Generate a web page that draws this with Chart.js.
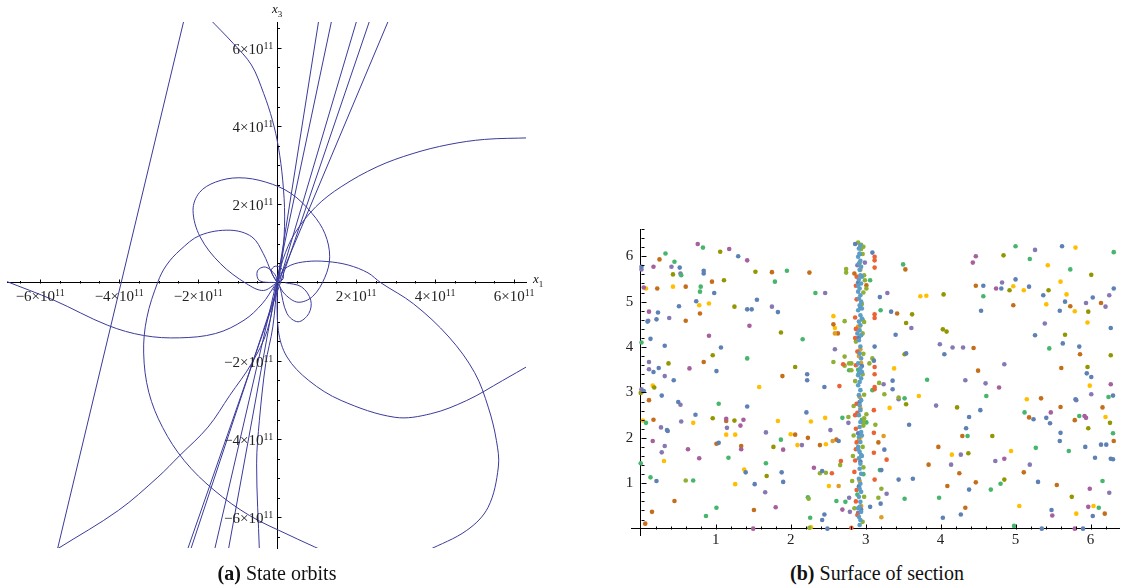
<!DOCTYPE html>
<html>
<head>
<meta charset="utf-8">
<script src="https://cdn.jsdelivr.net/npm/chart.js@4/dist/chart.umd.min.js"></script>
<style>
  body { margin: 0; background: #fff; width: 1123px; height: 586px; position: relative; overflow: hidden; font-family: 'Liberation Serif', serif; color: #111; }
  #orbits { position: absolute; left: 0; top: 0; }
  #section { position: absolute; left: 620px; top: 205px; }
  .cap { position: absolute; top: 562px; font-size: 20px; white-space: nowrap; transform: translateX(-50%); }
  .axlab { position: absolute; font-style: italic; font-size: 13px; }
  .axlab sub { font-style: normal; font-size: 9px; }
  .tl { position: absolute; font-size: 15px; line-height: 15px; white-space: nowrap; color: #222; }
  .tl sup { font-size: 10px; vertical-align: 5px; line-height: 0; }
</style>
</head>
<body>
<canvas id="orbits" width="560" height="575"></canvas>
<canvas id="section" width="503" height="355"></canvas>
<div class="axlab" style="left:272px;top:1px">x<sub>3</sub></div>
<div class="axlab" style="left:533px;top:271px">x<sub>1</sub></div>
<div class="cap" style="left:277px"><b>(a)</b> State orbits</div>
<div class="cap" style="left:877px"><b>(b)</b> Surface of section</div>
<script>
// ---- (a) state orbits, coordinates in units of 10^11 ----
const ORBIT_A = [[-2.35, 6.75], [-5.56, -6.8]];
const ORBIT_B = [[-5.56, -6.8], [-4.02, -5.82], [-3.02, -4.97], [-2.47, -4.42], [-1.75, -3.69], [-1.2, -2.88], [-0.65, -2.07], [-0.25, -1.22], [-0.02, -0.11]];
const ORBIT_C = [[-1.72, 6.75], [-1.11, 6.11], [-0.65, 5.56], [-0.34, 4.83], [-0.12, 4.15], [0.03, 3.47], [0.14, 2.62], [0.19, 1.68], [0.14, 0.74], [0.03, 0.06]];
const ORBIT_E1 = [[0, 0], [-0.35, -0.2], [-0.77, -0.03], [-1.44, 0.49], [-1.95, 1.17], [-2.13, 1.85], [-1.97, 2.3], [-1.56, 2.57], [-0.97, 2.68], [-0.29, 2.57], [0.35, 2.28], [0.89, 1.76], [1.21, 1.25], [1.33, 0.66], [1.21, 0.14], [0.9, -0.35], [0.53, -0.5], [0.2, -0.3], [0.02, -0.02]];
const ORBIT_E2 = [[0, 0], [-0.13, 0.23], [-0.35, 0.74], [-0.64, 1.17], [-1.19, 1.34], [-1.95, 1.21], [-2.46, 0.83], [-2.8, 0.45], [-3.02, 0.02], [-3.3, -0.9], [-3.38, -1.8], [-3.25, -2.8], [-2.9, -3.7], [-2.35, -4.55], [-1.6, -5.3], [-0.7, -5.95], [0.3, -6.45], [1.16, -6.85]];
const ORBIT_F = [[-6.9, 0.05], [-5.65, -0.45], [-4.29, -1.09], [-3.38, -1.35], [-2.47, -1.41], [-1.56, -1.3], [-0.84, -0.96], [-0.38, -0.54], [-0.06, -0.07]];
const ORBIT_G = [[0.02, 0.05], [0.15, 0.6], [0.44, 1.25], [0.98, 1.94], [1.62, 2.45], [2.53, 2.96], [3.44, 3.3], [4.35, 3.53], [5.25, 3.66], [6.4, 3.7]];
const ORBIT_H = [[0.02, 0.02], [0.08, 0.23], [0.33, 0.44], [0.75, 0.54], [1.26, 0.54], [1.8, 0.45], [2.3, 0.25], [2.62, 0], [3.45, -0.54], [4.35, -1.39], [5.0, -2.3], [5.35, -3.2], [5.55, -4.03], [5.6, -4.71], [5.34, -5.74], [4.8, -6.33], [3.8, -6.85]];
const ORBIT_I = [[0, -0.05], [0.03, -1.22], [0.25, -1.9], [0.8, -2.5], [1.62, -3.01], [2.98, -3.44], [3.89, -3.35], [4.8, -3.01], [5.71, -2.5], [6.4, -2.1]];
const ORBIT_J = [[0, 0], [-0.11, -1.13], [-0.29, -2.07], [-0.45, -3.52], [-0.52, -4.63], [-0.45, -6.85]];
const LOOP_1 = [[0.07, -0.1], [0.25, -0.79], [0.53, -1.0], [0.8, -0.79], [0.85, -0.45], [0.62, -0.11], [0.2, 0]];
const LOOP_2 = [[0, 0], [-0.15, 0.3], [-0.05, 0.42], [0.12, 0.35], [0.15, 0.1], [0, 0]];
const LOOP_3 = [[0, 0], [-0.45, 0.05], [-0.5, 0.3], [-0.3, 0.4], [-0.05, 0.2], [0, 0]];
const LINE_1 = [[1.06, 6.75], [0.05, 0.3], [-1.24, -6.85]];
const LINE_2 = [[1.39, 6.75], [0.0, 0.1], [-1.59, -6.85]];
const LINE_3 = [[2.03, 6.75], [0.05, 0.0], [-2.2, -6.85]];
const LINE_4 = [[2.36, 6.75], [0.1, 0.05], [-2.28, -6.85]];
const LINE_5 = [[2.84, 6.75], [0.15, 0.3], [-0.1, -0.2]];

const X1_MAJOR = [-6, -4, -2, 2, 4, 6];
const X1_MINOR = [-6.5, -5.5, -5, -4.5, -3.5, -3, -2.5, -1.5, -1, -0.5, 0.5, 1, 1.5, 2.5, 3, 3.5, 4.5, 5, 5.5];
const Y1_MAJOR = [-6, -4, -2, 2, 4, 6];
const Y1_MINOR = [-6.5, -5.5, -5, -4.5, -3.5, -3, -2.5, -1.5, -1, -0.5, 0.5, 1, 1.5, 2.5, 3, 3.5, 4.5, 5, 5.5, 6.5];

// ---- (b) surface of section, points per colour ----
const LIGHTBLUE_PTS = [[2.93,6.24],[2.91,6.17],[2.92,6.06],[2.90,5.99],[2.93,5.90],[2.91,5.84],[2.94,5.77],[2.92,5.70],[2.93,5.58],[2.95,5.55],[2.91,5.49],[2.94,5.40],[2.90,5.35],[2.92,5.29],[2.90,5.22],[2.93,5.14],[2.91,5.07],[2.94,5.00],[2.92,4.92],[2.95,4.85],[2.90,4.81],[2.93,4.70],[2.95,4.63],[2.91,4.56],[2.93,4.48],[2.92,4.37],[2.89,4.30],[2.94,4.26],[2.91,4.15],[2.93,4.01],[2.92,3.86],[2.94,3.75],[2.90,3.64],[2.93,3.53],[2.95,3.45],[2.91,3.42],[2.90,3.38],[2.94,3.31],[2.92,3.23],[2.90,3.16],[2.93,3.05],[2.91,2.94],[2.94,2.83],[2.92,2.72],[2.93,2.61],[2.91,2.50],[2.93,2.35],[2.92,2.24],[2.94,2.13],[2.95,2.05],[2.91,2.02],[2.93,1.91],[2.90,1.80],[2.90,1.75],[2.92,1.69],[2.94,1.62],[2.95,1.60],[2.91,1.55],[2.93,1.43],[2.92,1.32],[2.94,1.21],[2.91,1.10],[2.93,0.99],[2.92,0.88],[2.94,0.81],[2.91,0.70],[2.93,0.59],[2.92,0.48],[2.90,0.45],[2.94,0.37],[2.91,0.26],[2.93,0.19],[2.92,0.08]];
const BLUE_PTS = [[0.01,5.77],[0.52,5.75],[0.84,5.68],[0.84,5.62],[1.30,6.00],[0.98,5.19],[0.74,5.01],[0.51,4.90],[1.42,4.83],[1.48,4.83],[1.55,5.04],[1.83,4.77],[0.23,4.76],[0.09,4.56],[0.21,4.61],[0.13,4.18],[0.32,4.03],[1.07,3.99],[0.24,3.54],[0.17,3.45],[1.01,3.47],[0.44,3.27],[2.22,3.40],[2.22,3.27],[2.45,3.12],[0.04,3.03],[0.28,2.93],[0.50,2.79],[1.42,2.69],[0.73,2.51],[2.21,2.56],[0.35,2.17],[2.86,6.27],[3.09,6.08],[3.19,5.10],[3.34,4.78],[3.40,4.27],[3.12,4.01],[3.11,3.70],[3.36,3.26],[3.36,3.07],[3.54,3.86],[3.58,2.29],[4.57,5.35],[4.54,4.80],[4.05,3.84],[4.38,2.46],[4.53,2.61],[4.34,2.21],[4.81,5.29],[5.00,5.49],[5.18,5.33],[5.24,2.41],[5.41,2.44],[5.46,2.32],[5.62,6.22],[5.37,5.14],[5.66,5.00],[5.59,4.80],[6.31,5.29],[6.03,5.09],[5.63,4.08],[5.26,4.26],[5.85,4.01],[6.27,4.42],[5.95,3.42],[6.01,3.34],[6.30,2.93],[5.80,2.85],[0.36,2.15],[1.04,1.89],[0.21,1.05],[1.40,1.24],[1.52,0.98],[1.90,1.03],[1.88,1.24],[2.45,0.31],[2.42,0.19],[2.49,0.00],[2.42,1.27],[2.64,1.93],[3.25,1.74],[3.21,1.29],[3.20,0.55],[3.06,0.48],[3.44,1.08],[3.63,1.10],[4.03,0.24],[4.38,0.86],[4.27,0.31],[5.30,1.03],[5.35,0.00],[5.48,0.41],[5.60,2.11],[5.59,1.93],[5.90,0.00],[5.93,1.80],[6.03,0.28],[6.06,1.56],[6.14,1.85],[6.21,1.85],[6.27,1.54],[6.30,1.53],[2.92,6.05],[2.90,5.42],[2.93,4.88],[2.91,4.21],[2.95,3.58],[2.92,2.79],[2.90,2.10],[2.93,1.48],[2.91,0.93],[2.94,0.42]];
const PURPLE_PTS = [[0.01,5.71],[0.41,5.77],[0.53,5.62],[2.46,5.19],[1.75,4.89],[0.10,4.58],[0.38,4.64],[0.11,3.67],[0.11,3.51],[0.32,3.36],[0.01,3.07],[0.53,2.73],[0.54,2.36],[1.15,2.22],[2.77,2.33],[2.59,3.95],[2.99,5.86],[3.29,5.19],[3.61,4.42],[3.24,3.18],[3.44,2.85],[4.16,3.99],[3.99,4.06],[4.30,3.99],[4.33,3.27],[4.60,3.20],[3.94,2.71],[4.82,5.42],[5.26,6.14],[4.85,3.62],[5.81,2.83],[5.94,4.97],[6.20,4.89],[6.25,5.14],[5.39,4.52],[6.01,2.96],[0.27,2.23],[0.32,1.82],[0.28,1.68],[1.67,2.12],[2.15,1.84],[2.53,2.17],[1.66,0.80],[2.79,0.37],[2.78,0.68],[3.28,0.77],[4.14,1.41],[4.27,1.63],[4.73,1.49],[5.19,1.41],[6.25,0.79],[2.89,5.80],[2.90,0.35]];
const MAGENTA_PTS = [[0.76,6.27],[1.18,6.16],[1.42,5.91],[0.17,5.77],[0.04,5.31],[0.11,4.78],[0.91,4.25],[1.45,4.47],[0.65,3.53],[1.14,2.42],[1.37,2.40],[1.33,2.27],[4.47,6.00],[4.43,5.86],[4.74,5.29],[4.78,3.11],[5.47,2.56],[5.92,2.48],[5.94,2.44],[6.27,3.18],[0.16,1.93],[1.34,1.75],[0.63,1.75],[0.78,1.55],[1.90,1.74],[1.50,0.00],[1.80,0.47],[2.31,1.34],[2.69,0.42],[4.85,1.54],[5.49,0.29],[5.79,0.00],[5.97,0.48],[5.99,0.88]];
const GREEN_PTS = [[0.83,6.19],[0.33,6.06],[0.45,5.88],[0.54,5.58],[1.95,5.68],[1.79,5.44],[0.80,5.33],[0.79,5.22],[2.33,5.19],[2.16,4.17],[0.01,4.10],[1.42,3.75],[1.04,2.75],[0.07,2.33],[3.06,5.47],[3.20,4.81],[2.78,3.49],[3.09,3.05],[3.52,2.87],[3.01,2.34],[2.69,2.44],[3.50,5.82],[4.57,5.12],[4.61,2.92],[5.00,6.22],[5.19,5.94],[5.12,2.56],[5.85,2.48],[5.73,5.71],[6.31,6.09],[5.45,3.97],[6.24,2.90],[3.82,3.28],[1.17,1.56],[1.87,1.96],[0.00,1.44],[0.13,1.13],[0.70,1.06],[1.67,1.44],[0.87,0.28],[1.01,0.46],[2.23,0.69],[2.26,0.24],[2.61,0.61],[2.73,0.59],[3.19,1.29],[3.52,0.66],[3.98,0.68],[4.36,2.04],[4.67,0.86],[4.80,0.99],[4.98,0.06],[5.27,1.78],[5.71,1.71],[6.11,0.46],[6.16,1.05],[6.30,2.10],[2.93,6.20],[2.96,4.60],[2.90,3.50],[2.95,2.40],[2.97,1.20],[2.89,0.75]];
const OLIVE_PTS = [[1.06,6.10],[0.43,5.60],[1.53,5.66],[1.11,5.47],[1.25,4.89],[1.87,4.32],[0.96,3.82],[0.37,3.64],[2.06,3.56],[0.18,3.11],[0.00,2.99],[0.96,2.43],[1.25,2.38],[3.62,4.72],[3.54,4.53],[3.52,3.84],[3.54,2.74],[4.04,5.16],[4.84,6.02],[4.92,5.25],[6.01,5.59],[5.44,5.25],[5.66,4.27],[5.97,4.78],[6.27,3.82],[5.96,3.56],[6.26,2.33],[5.97,2.21],[4.22,2.67],[4.03,4.39],[4.08,4.34],[1.68,1.16],[1.77,1.80],[4.69,2.04],[4.85,1.08],[4.37,1.66],[5.75,0.70]];
const LIME_PTS = [[2.74,5.72],[2.74,5.64],[2.98,5.58],[2.99,5.47],[3.01,5.29],[2.97,6.21],[2.90,6.30],[2.94,6.16],[2.72,4.57],[2.72,3.79],[2.57,3.67],[2.78,3.64],[2.81,3.64],[2.72,3.59],[2.81,3.49],[3.05,3.64],[3.09,3.75],[3.18,3.21],[3.25,2.96],[3.44,2.89],[3.01,2.52],[3.13,2.29],[2.97,2.27],[2.77,2.46],[2.98,2.43],[0.60,1.06],[2.39,1.22],[2.47,1.23],[2.66,1.40],[3.21,0.88],[3.17,0.68],[2.24,0.66],[2.25,0.02],[2.94,6.25],[2.96,6.05],[2.92,5.85],[2.97,5.20],[2.95,4.95],[2.98,4.55],[2.96,4.30],[2.87,4.12],[2.97,3.85],[2.96,3.40],[2.86,3.25],[2.98,2.95],[2.84,2.70],[2.97,2.35],[2.84,2.05],[2.96,1.80],[2.83,1.60],[2.97,1.35],[2.82,1.05],[2.98,0.70],[2.85,0.45],[2.96,0.15]];
const ORANGE_PTS = [[2.59,4.30],[2.64,0.94],[2.56,1.93],[3.24,2.04],[3.21,0.25],[2.93,5.70],[2.90,4.45],[2.93,3.95],[2.91,3.80],[2.94,3.65],[2.92,2.90],[2.93,2.65],[2.91,1.95],[2.92,1.05],[2.94,0.50]];
const DORANGE_PTS = [[0.25,5.93],[1.75,5.65],[2.25,5.64],[0.95,5.44],[0.22,5.29],[0.60,5.33],[0.79,4.74],[0.60,4.58],[0.84,3.67],[1.89,3.36],[0.11,2.83],[0.17,2.40],[2.57,4.50],[2.63,4.30],[2.85,5.62],[3.01,5.36],[3.42,4.74],[3.53,5.71],[4.44,3.98],[4.47,5.35],[4.50,3.48],[4.97,4.92],[5.34,2.87],[5.18,2.45],[5.60,2.68],[5.79,2.39],[5.73,4.90],[6.14,4.97],[5.86,3.84],[5.61,3.54],[6.16,2.67],[1.14,2.37],[1.01,1.87],[1.34,1.82],[2.06,2.07],[2.23,2.00],[2.39,1.84],[2.61,1.96],[0.45,0.61],[1.51,0.41],[3.17,1.90],[3.84,1.41],[3.97,1.80],[4.09,0.94],[4.25,1.22],[4.29,2.04],[4.33,0.46],[4.47,1.02],[5.11,1.24],[5.55,0.96],[6.19,0.33],[6.31,1.93],[0.15,0.37],[0.06,0.11]];
const YELLOW_PTS = [[0.07,5.29],[0.43,5.33],[0.78,4.92],[0.91,4.96],[1.58,3.12],[0.16,3.15],[0.03,2.38],[0.70,2.33],[1.83,2.37],[2.27,2.36],[2.46,2.44],[2.57,4.68],[2.59,4.42],[3.38,3.53],[3.71,2.92],[3.32,2.66],[3.81,5.13],[3.73,5.12],[4.97,5.34],[5.11,5.25],[5.15,2.85],[5.43,5.80],[5.80,6.19],[5.60,5.44],[5.68,5.16],[5.79,4.79],[5.41,4.94],[5.96,4.54],[5.99,3.15],[6.20,2.46],[0.31,1.49],[1.14,2.07],[1.26,2.07],[2.00,2.08],[2.09,1.84],[2.47,1.86],[1.38,1.30],[1.26,0.98],[2.27,0.03],[2.51,0.94],[4.15,1.63],[4.94,1.71],[5.05,0.50],[5.81,0.33],[6.04,0.50],[2.92,4.45],[2.93,2.00]];
const RED_PTS = [[3.12,5.99],[3.12,5.91],[3.12,5.75],[3.12,4.72],[3.12,4.64],[2.70,3.62],[3.12,3.56],[3.12,3.40],[2.65,3.14],[3.12,3.12],[3.12,3.07],[3.11,2.61],[2.86,2.50],[2.55,1.22],[2.67,1.49],[2.81,0.02],[3.11,1.67],[3.28,1.52],[3.12,1.08],[3.11,2.11],[2.88,5.55],[2.87,5.35],[2.88,5.05],[2.86,4.65],[2.87,4.40],[2.86,4.20],[2.89,3.90],[2.87,3.60],[2.88,2.75],[2.89,2.55],[2.87,2.20],[2.88,1.90],[2.87,1.75],[2.86,1.50],[2.85,1.25],[2.88,0.85],[2.87,0.60],[2.89,0.30]];

const X2_MAJOR = [1, 2, 3, 4, 5, 6];
const Y2_MAJOR = [1, 2, 3, 4, 5, 6];

function minorSteps(from, to, step, majors) {
  const out = [];
  for (let v = from; v <= to + 1e-9; v += step) {
    const r = Math.round(v * 100) / 100;
    if (!majors.includes(r) && r !== 0) out.push(r);
  }
  return out;
}

Chart.defaults.font.family = "'Liberation Serif', serif";
Chart.defaults.color = '#222';

const tickMarks = {
  id: 'tickMarks',
  afterDatasetsDraw(chart, args, o) {
    const { ctx } = chart;
    const xs = chart.scales.x, ys = chart.scales.y;
    const x0 = Math.round(xs.getPixelForValue(0)) + 0.5;
    const y0 = Math.round(ys.getPixelForValue(0)) + 0.5;
    ctx.save();
    ctx.strokeStyle = '#000';
    ctx.lineWidth = 1;
    ctx.beginPath();
    const mark = (vals, len, horiz) => vals.forEach(v => {
      if (horiz) {
        const p = Math.round(xs.getPixelForValue(v)) + 0.5;
        ctx.moveTo(p, y0); ctx.lineTo(p, y0 - len);
      } else {
        const p = Math.round(ys.getPixelForValue(v)) + 0.5;
        ctx.moveTo(x0, p); ctx.lineTo(x0 + len, p);
      }
    });
    mark(o.xMajor, o.major, true); mark(o.xMinor, o.minor, true);
    mark(o.yMajor, o.major, false); mark(o.yMinor, o.minor, false);
    ctx.stroke();
    ctx.restore();
  }
};

const toXY = pts => pts.map(([x, y]) => ({ x, y }));
const sciHtml = v => (v < 0 ? '\u2212' : '') + Math.abs(v) + '\u00d710<sup>11</sup>';

const orbitColor = '#3a3a9c';
const curves = [ORBIT_B, ORBIT_C, ORBIT_E1, ORBIT_E2, ORBIT_F, ORBIT_G, ORBIT_H, ORBIT_I, ORBIT_J, LOOP_1, LOOP_2, LOOP_3];
const straight = [ORBIT_A, LINE_1, LINE_2, LINE_3, LINE_4, LINE_5];
const orbitSets = curves.map(c => ({ data: toXY(c), tension: 0.35 }))
  .concat(straight.map(c => ({ data: toXY(c), tension: 0 })))
  .map(d => Object.assign(d, { showLine: true, borderColor: orbitColor, borderWidth: 1, pointRadius: 0, fill: false }));

const orbitChart = new Chart(document.getElementById('orbits'), {
  type: 'scatter',
  data: { datasets: orbitSets },
  plugins: [tickMarks],
  options: {
    responsive: false,
    animation: false,
    events: [],
    layout: { padding: { left: 7, top: 22, right: 34, bottom: 27 } },
    plugins: {
      legend: { display: false },
      tooltip: { enabled: false },
      tickMarks: { xMajor: X1_MAJOR, xMinor: X1_MINOR, yMajor: Y1_MAJOR, yMinor: Y1_MINOR, major: 4, minor: 2.5 }
    },
    scales: {
      x: {
        type: 'linear', min: -6.84, max: 6.3, position: { y: 0 },
        grid: { display: false, drawTicks: false },
        border: { color: '#000', width: 1 },
        afterBuildTicks: s => { s.ticks = X1_MAJOR.map(v => ({ value: v })); },
        ticks: { display: false }
      },
      y: {
        type: 'linear', min: -6.78, max: 6.66, position: { x: 0 },
        grid: { display: false, drawTicks: false },
        border: { color: '#000', width: 1 },
        afterBuildTicks: s => { s.ticks = Y1_MAJOR.map(v => ({ value: v })); },
        ticks: { display: false }
      }
    }
  }
});

// tick labels with real superscripts, placed from the chart's own scales
(function placeOrbitLabels() {
  const xs = orbitChart.scales.x, ys = orbitChart.scales.y;
  const ax = xs.getPixelForValue(0), ay = ys.getPixelForValue(0);
  X1_MAJOR.forEach(v => {
    const d = document.createElement('div');
    d.className = 'tl';
    d.innerHTML = sciHtml(v);
    d.style.left = xs.getPixelForValue(v) + 'px';
    d.style.top = (ay + 6) + 'px';
    d.style.transform = 'translateX(-50%)';
    document.body.appendChild(d);
  });
  Y1_MAJOR.forEach(v => {
    const d = document.createElement('div');
    d.className = 'tl';
    d.innerHTML = sciHtml(v);
    d.style.left = (ax - 4) + 'px';
    d.style.top = (ys.getPixelForValue(v) - 6) + 'px';
    d.style.transform = 'translateX(-100%)';
    document.body.appendChild(d);
  });
})();

const dotSets = [
  [LIGHTBLUE_PTS, '#5D9EC7'], [BLUE_PTS, '#5E81B5'], [RED_PTS, '#EB6235'], [LIME_PTS, '#8FB032'],
  [ORANGE_PTS, '#E19C24'], [GREEN_PTS, '#47B66D'], [PURPLE_PTS, '#8778B3'], [MAGENTA_PTS, '#A5609D'],
  [OLIVE_PTS, '#929600'], [DORANGE_PTS, '#C56E1A'], [YELLOW_PTS, '#FFBF00']
].map(([pts, c]) => ({ data: toXY(pts), backgroundColor: c, borderWidth: 0, pointRadius: 2.3 }));

new Chart(document.getElementById('section'), {
  type: 'scatter',
  data: { datasets: dotSets },
  plugins: [tickMarks],
  options: {
    responsive: false,
    animation: false,
    events: [],
    layout: { padding: { left: 11, top: 24, right: 0, bottom: 25 } },
    plugins: {
      legend: { display: false },
      tooltip: { enabled: false },
      tickMarks: { xMajor: X2_MAJOR, xMinor: minorSteps(0.2, 6.2, 0.2, X2_MAJOR), yMajor: Y2_MAJOR, yMinor: minorSteps(0.2, 6.6, 0.2, Y2_MAJOR), major: 5, minor: 3 }
    },
    scales: {
      x: {
        type: 'linear', min: -0.13, max: 6.38, position: { y: 0 },
        grid: { display: false, drawTicks: false },
        border: { color: '#000', width: 1 },
        afterBuildTicks: s => { s.ticks = X2_MAJOR.map(v => ({ value: v })); },
        ticks: { autoSkip: false, maxRotation: 0, padding: 2, font: { size: 15 }, callback: v => String(v) }
      },
      y: {
        type: 'linear', min: -0.14, max: 6.6, position: { x: 0 },
        grid: { display: false, drawTicks: false },
        border: { color: '#000', width: 1 },
        afterBuildTicks: s => { s.ticks = Y2_MAJOR.map(v => ({ value: v })); },
        ticks: { autoSkip: false, font: { size: 15 }, callback: v => v + '\u2002' }
      }
    }
  }
});
</script>
</body>
</html>
